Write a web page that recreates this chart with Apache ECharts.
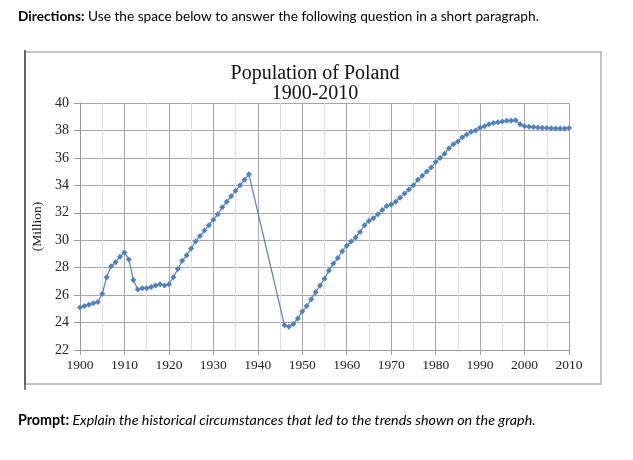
<!DOCTYPE html>
<html>
<head>
<meta charset="utf-8">
<script src="https://cdn.jsdelivr.net/npm/echarts@6/dist/echarts.min.js"></script>
<style>
  html, body { margin: 0; padding: 0; background: #fff; }
  #chart { width: 633px; height: 460px; }
</style>
</head>
<body>
<div id="chart"></div>
<script>
// ---- Data ----
const titleLines = ['Population of Poland', '1900-2010'];
const yAxisName = '(Million)';
const directionsLabel = 'Directions:';
const directionsText = ' Use the space below to answer the following question in a short paragraph.';
const promptLabel = 'Prompt:';
const promptText = ' Explain the historical circumstances that led to the trends shown on the graph.';

const yearsPreWar = [1900,1901,1902,1903,1904,1905,1906,1907,1908,1909,
  1910,1911,1912,1913,1914,1915,1916,1917,1918,1919,
  1920,1921,1922,1923,1924,1925,1926,1927,1928,1929,
  1930,1931,1932,1933,1934,1935,1936,1937,1938];
const popPreWar = [25.1,25.2,25.3,25.4,25.5,26.1,27.3,28.1,28.4,28.8,
  29.1,28.6,27.1,26.4,26.5,26.5,26.6,26.7,26.8,26.7,
  26.8,27.3,27.9,28.5,28.9,29.4,29.9,30.3,30.7,31.1,
  31.5,31.9,32.4,32.8,33.2,33.6,34.0,34.4,34.8];

const yearsPostWar = [1946,1947,1948,1949,
  1950,1951,1952,1953,1954,1955,1956,1957,1958,1959,
  1960,1961,1962,1963,1964,1965,1966,1967,1968,1969,
  1970,1971,1972,1973,1974,1975,1976,1977,1978,1979,
  1980,1981,1982,1983,1984,1985,1986,1987,1988,1989,
  1990,1991,1992,1993,1994,1995,1996,1997,1998,1999,
  2000,2001,2002,2003,2004,2005,2006,2007,2008,2009,2010];
const popPostWar = [23.8,23.7,23.9,24.3,
  24.8,25.2,25.7,26.2,26.7,27.2,27.8,28.3,28.7,29.2,
  29.6,29.9,30.2,30.6,31.1,31.4,31.6,31.9,32.2,32.5,
  32.6,32.8,33.1,33.4,33.7,34.0,34.4,34.7,35.0,35.3,
  35.7,36.0,36.3,36.7,37.0,37.2,37.5,37.7,37.9,38.0,
  38.2,38.3,38.45,38.55,38.6,38.65,38.7,38.7,38.75,38.45,
  38.3,38.27,38.25,38.22,38.2,38.18,38.16,38.14,38.14,38.14,38.17];

const xMin = 1900, xMax = 2010, xStep = 10;
const yMin = 22, yMax = 40, yStep = 2;

// ---- Build ----
const seriesData = [];
yearsPreWar.forEach((y, i) => seriesData.push([y, popPreWar[i]]));
yearsPostWar.forEach((y, i) => seriesData.push([y, popPostWar[i]]));

const serif = '"Liberation Serif", "DejaVu Serif", serif';
const sans = 'Lato, "Open Sans", sans-serif';

const chart = echarts.init(document.getElementById('chart'), null, { renderer: 'canvas' });
chart.setOption({
  animation: false,
  backgroundColor: '#ffffff',
  title: {
    text: titleLines.join('\n'),
    left: 310, top: 59,
    textAlign: 'center',
    textStyle: { fontFamily: serif, fontSize: 20, fontWeight: 'normal', color: '#111', lineHeight: 20 }
  },
  grid: { left: 80, right: 64, top: 103, bottom: 110, containLabel: false, outerBoundsMode: 'none' },
  xAxis: {
    type: 'value', min: xMin, max: xMax, interval: xStep,
    axisLine: { show: true, lineStyle: { color: '#9a9a9a', width: 1 } },
    axisTick: { show: true, length: 5, lineStyle: { color: '#9a9a9a' } },
    minorTick: { show: false, splitNumber: 2 },
    splitLine: { show: true, lineStyle: { color: '#a6a6a6', width: 1 } },
    minorSplitLine: { show: true, lineStyle: { color: '#dedede', width: 1 } },
    axisLabel: { fontFamily: serif, fontSize: 13.5, color: '#222', margin: 8,
      formatter: v => String(v) }
  },
  yAxis: {
    type: 'value', min: yMin, max: yMax, interval: yStep,
    name: yAxisName, nameLocation: 'middle', nameRotate: 90, nameGap: 34,
    nameTextStyle: { fontFamily: serif, fontSize: 13.5, color: '#222' },
    axisLine: { show: true, lineStyle: { color: '#9a9a9a', width: 1 } },
    axisTick: { show: true, length: 6, lineStyle: { color: '#9a9a9a' } },
    splitLine: { show: true, lineStyle: { color: '#a6a6a6', width: 1 } },
    axisLabel: { fontFamily: serif, fontSize: 14, color: '#222', margin: 11 }
  },
  series: [{
    type: 'line',
    data: seriesData,
    symbol: 'diamond',
    symbolSize: 6,
    showSymbol: true,
    itemStyle: { color: '#4F81BD' },
    lineStyle: { color: '#4F81BD', width: 1.2 },
    emphasis: { disabled: true }
  }],
  graphic: [
    {
      type: 'rect', silent: true, z: -1,
      shape: { x: 25, y: 52, width: 576, height: 332 },
      style: { fill: 'none', stroke: '#b0b0b0', lineWidth: 1.5 }
    },
    {
      type: 'line', silent: true,
      shape: { x1: 25, y1: 50, x2: 25, y2: 390 },
      style: { stroke: '#222', lineWidth: 1.2 }
    },
    {
      type: 'text', left: 18, top: 10,
      style: {
        text: '{b|' + directionsLabel + '}{n|' + directionsText + '}',
        rich: {
          b: { fontFamily: sans, fontSize: 13.7, fontWeight: 'bold', fill: '#000' },
          n: { fontFamily: sans, fontSize: 13.7, fill: '#000' }
        }
      }
    },
    {
      type: 'text', left: 18, top: 413,
      style: {
        text: '{b|' + promptLabel + '}{n|' + promptText + '}',
        rich: {
          b: { fontFamily: sans, fontSize: 14.3, fontWeight: 'bold', fill: '#000' },
          n: { fontFamily: sans, fontSize: 14.3, fontStyle: 'italic', fill: '#000' }
        }
      }
    }
  ]
});
</script>
</body>
</html>
